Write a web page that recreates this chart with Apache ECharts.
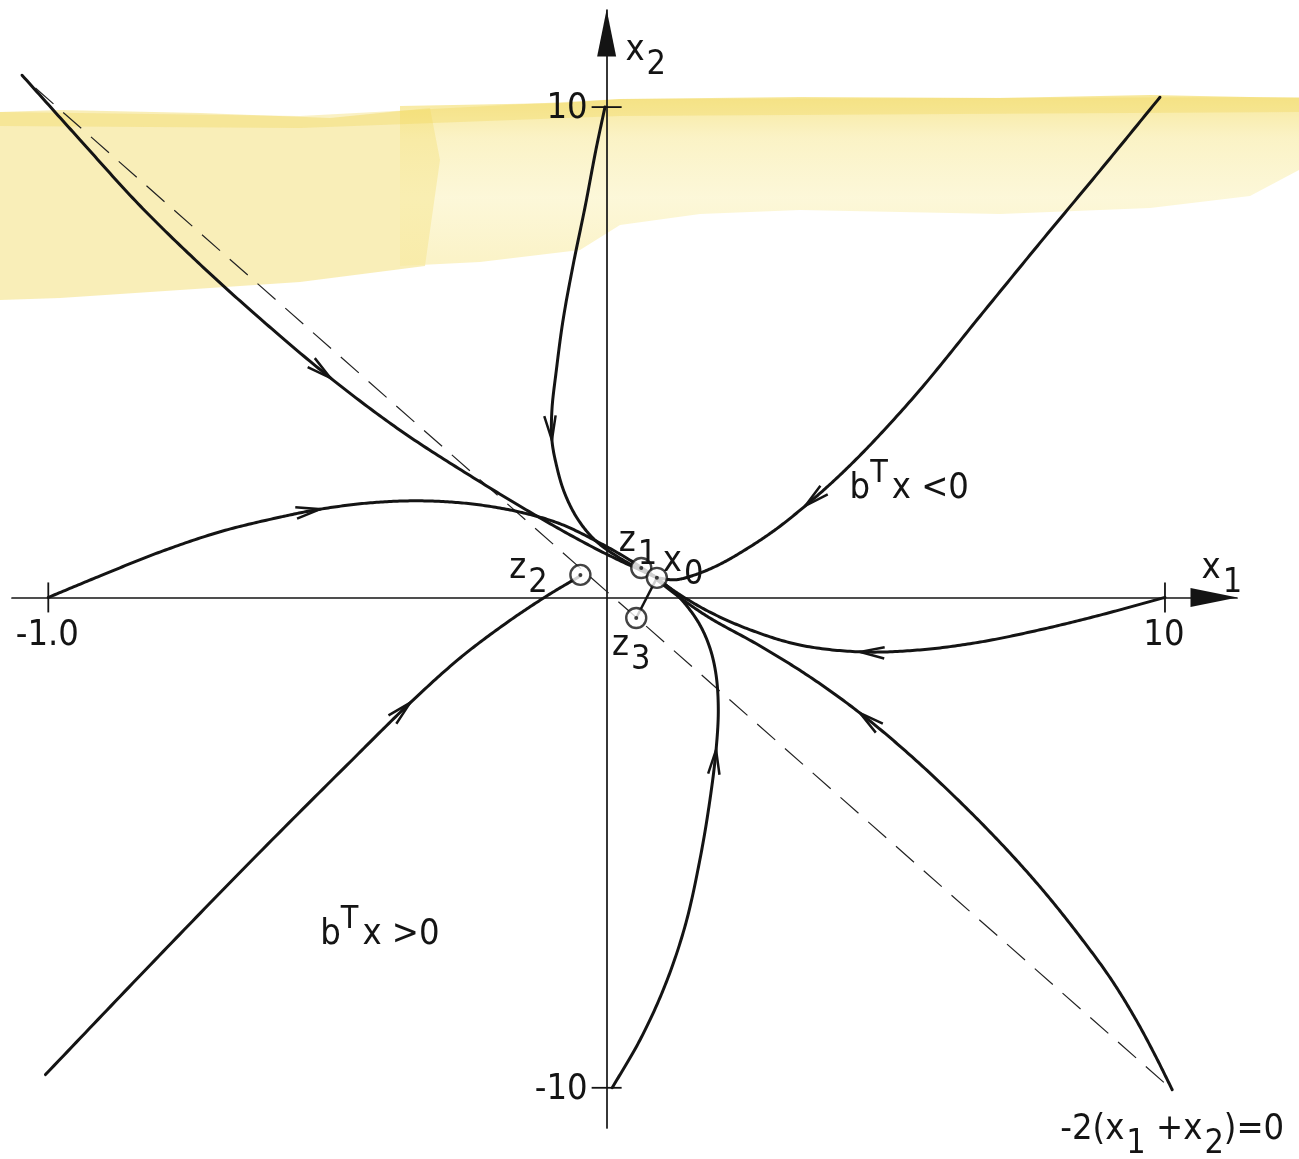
<!DOCTYPE html>
<html>
<head>
<meta charset="utf-8">
<script src="https://cdn.jsdelivr.net/npm/echarts@6/dist/echarts.min.js"></script>
<style>
  html, body { margin: 0; padding: 0; background: #ffffff; }
  #chart { width: 1299px; height: 1159px; }
</style>
</head>
<body>
<div id="chart"></div>
<script>
// Phase-plane trajectories (x1, x2), each listed in the direction of motion.
const trajTopLeft = [[-10.47,10.65],[-9.43,9.33],[-8.35,7.98],[-7.27,6.78],[-6.20,5.68],[-4.95,4.48],[-3.70,3.41],[-2.44,2.48],[-1.19,1.62],[-0.12,0.95],[0.90,0.40]];
const trajTop = [[-0.03,10.0],[-0.19,9.14],[-0.38,8.00],[-0.60,6.78],[-0.78,5.66],[-0.90,4.64],[-0.98,3.82],[-0.98,3.21],[-0.90,2.70],[-0.76,2.15],[-0.53,1.62],[-0.21,1.17],[0.24,0.80],[0.90,0.40]];
const trajLeft = [[-10.0,0.0],[-9.07,0.44],[-7.99,0.93],[-6.92,1.34],[-5.84,1.64],[-5.13,1.80],[-4.23,1.93],[-3.34,1.97],[-2.44,1.91],[-1.55,1.74],[-0.83,1.50],[-0.12,1.11],[0.42,0.76],[0.90,0.40]];
const trajLowerLeft = [[-10.05,-9.73],[-8.17,-7.49],[-6.38,-5.39],[-4.59,-3.35],[-3.52,-2.15],[-2.62,-1.23],[-1.82,-0.54],[-1.10,0.01],[-0.47,0.44]];
const trajTopRight = [[9.91,10.20],[8.84,8.71],[7.76,7.23],[6.69,5.74],[5.61,4.23],[4.72,3.11],[4.09,2.40],[3.56,1.87],[3.02,1.38],[2.48,0.97],[2.00,0.66],[1.58,0.46],[1.23,0.36],[0.90,0.40]];
const trajRight = [[10.0,0.0],[8.84,-0.36],[7.76,-0.66],[6.69,-0.91],[5.61,-1.07],[4.54,-1.11],[3.46,-0.97],[2.57,-0.66],[1.85,-0.30],[1.32,0.05],[0.90,0.38]];
const trajBottom = [[0.10,-10.0],[0.60,-9.02],[1.05,-7.90],[1.41,-6.68],[1.67,-5.35],[1.85,-4.13],[1.96,-3.11],[2.00,-2.29],[1.96,-1.58],[1.85,-1.03],[1.67,-0.56],[1.42,-0.15],[1.17,0.15],[0.90,0.40]];
const trajLowerRight = [[10.13,-10.04],[9.82,-9.33],[9.46,-8.57],[9.02,-7.76],[8.48,-6.92],[7.85,-6.02],[7.14,-5.11],[6.33,-4.17],[5.43,-3.21],[4.54,-2.36],[3.64,-1.62],[2.75,-0.99],[1.85,-0.42],[1.32,-0.01],[0.90,0.36]];

// index of the point on each trajectory that carries its direction arrow
const trajectories = [trajTopLeft, trajTop, trajLeft, trajLowerLeft, trajTopRight, trajRight, trajBottom, trajLowerRight];
const arrowIndex   = [5, 7, 5, 4, 7, 5, 6, 9];

// switching line -2(x1 + x2) = 0
const switchLine = [[-10.23,10.39],[10.13,-10.04]];

// marked points z1, x0, z2, z3 and the segment x0 -> z3
const pointNames = ['z1','x0','z2','z3'];
const pointX = [0.62, 0.90, -0.47, 0.53];
const pointY = [0.60, 0.40, 0.46, -0.42];
const segmentX0Z3 = [[0.90,0.40],[0.53,-0.42]];

// axis ticks and their labels
const xTickValues = [-10, 10];
const xTickLabels = ['-1.0', '10'];
const yTickValues = [-10, 10];
const yTickLabels = ['-10', '10'];

// annotation texts and their anchor positions
const noteText = ['x{s|2}', 'x{s|1}', 'z{s|1}', 'x{s|0}', 'z{s|2}', 'z{s|3}', 'b{t|T}x <0', 'b{t|T}x >0', '-2(x{s|1} +x{s|2})=0'];
const noteX = [0.70, 11.02, 0.56, 1.37, -1.40, 0.44, 5.42, -4.06, 10.13];
const noteY = [11.15, 0.58, 1.14, 0.74, 0.58, -0.99, 2.22, -6.88, -10.86];

const FONT = "'DejaVu Sans Condensed', 'DejaVu Sans', sans-serif";
const INK = '#141414';
const FS = 36;

const chart = echarts.init(document.getElementById('chart'), null, { renderer: 'canvas' });

// centripetal Catmull-Rom through pixel points, appended to out
function catmullRomSegment(p0, p1, p2, p3, n, out) {
  const d = (a, b) => Math.max(Math.pow(Math.hypot(b[0] - a[0], b[1] - a[1]), 0.5), 1e-4);
  const t0 = 0, t1 = t0 + d(p0, p1), t2 = t1 + d(p1, p2), t3 = t2 + d(p2, p3);
  for (let j = out.length ? 1 : 0; j <= n; j++) {
    const t = t1 + (t2 - t1) * j / n;
    const lerp = (a, b, ta, tb) => [
      ((tb - t) * a[0] + (t - ta) * b[0]) / (tb - ta),
      ((tb - t) * a[1] + (t - ta) * b[1]) / (tb - ta)
    ];
    const A1 = lerp(p0, p1, t0, t1), A2 = lerp(p1, p2, t1, t2), A3 = lerp(p2, p3, t2, t3);
    const B1 = lerp(A1, A2, t0, t2), B2 = lerp(A2, A3, t1, t3);
    out.push(lerp(B1, B2, t1, t2));
  }
}

function renderTrajectory(params, api) {
  const traj = trajectories[api.value(2)];
  const pts = traj.map(p => api.coord(p));
  const n = pts.length;
  const out = [];
  for (let i = 0; i < n - 1; i++) {
    const p1 = pts[i], p2 = pts[i + 1];
    const p0 = i > 0 ? pts[i - 1] : [2 * p1[0] - p2[0], 2 * p1[1] - p2[1]];
    const p3 = i < n - 2 ? pts[i + 2] : [2 * p2[0] - p1[0], 2 * p2[1] - p1[1]];
    catmullRomSegment(p0, p1, p2, p3, 24, out);
  }
  return {
    type: 'polyline',
    shape: { points: out },
    style: { stroke: INK, lineWidth: 3, fill: null, lineJoin: 'round', lineCap: 'round' }
  };
}

function renderArrow(params, api) {
  const tip = api.coord([api.value(0), api.value(1)]);
  const a = api.coord([api.value(2), api.value(3)]);
  const b = api.coord([api.value(4), api.value(5)]);
  const ang = Math.atan2(b[1] - a[1], b[0] - a[0]);
  const len = 25, spread = 0.23;
  const p1 = [tip[0] - len * Math.cos(ang - spread), tip[1] - len * Math.sin(ang - spread)];
  const p2 = [tip[0] - len * Math.cos(ang + spread), tip[1] - len * Math.sin(ang + spread)];
  return {
    type: 'polyline',
    shape: { points: [p1, tip, p2] },
    style: { stroke: INK, lineWidth: 2.5, fill: null, lineJoin: 'miter' }
  };
}

// tick mark crossing the axis, with its label
function renderTick(params, api) {
  const p = api.coord([api.value(0), api.value(1)]);
  const onX = api.value(2) === 0;
  const idx = api.value(3);
  const h = 15;
  const shape = onX
    ? { x1: p[0], y1: p[1] - h, x2: p[0], y2: p[1] + h }
    : { x1: p[0] - h, y1: p[1], x2: p[0] + h, y2: p[1] };
  const label = onX
    ? { type: 'text', x: p[0] - 1, y: p[1] + 20,
        style: { text: xTickLabels[idx], fill: INK, fontFamily: FONT, fontSize: FS, align: 'center', verticalAlign: 'top' } }
    : { type: 'text', x: p[0] - 19, y: p[1] + 2,
        style: { text: yTickLabels[idx], fill: INK, fontFamily: FONT, fontSize: FS, align: 'right', verticalAlign: 'middle' } };
  return {
    type: 'group',
    children: [
      { type: 'line', shape: shape, style: { stroke: INK, lineWidth: 1.8 } },
      label
    ]
  };
}

// free text placed at data positions
function renderNote(params, api) {
  const p = api.coord([api.value(0), api.value(1)]);
  return {
    type: 'text', x: p[0], y: p[1],
    style: {
      text: noteText[params.dataIndex],
      fill: INK, fontFamily: FONT, fontSize: FS,
      align: 'center', verticalAlign: 'middle',
      rich: {
        s: { fill: INK, fontFamily: FONT, fontSize: 34, padding: [28, 0, 0, 2] },
        t: { fill: INK, fontFamily: FONT, fontSize: 32, padding: [0, 4, 30, 0] }
      }
    }
  };
}

const trajData = trajectories.map((t, i) => [t[0][0], t[0][1], i]);

const arrowData = trajectories.map((t, i) => {
  const k = arrowIndex[i];
  return [t[k][0], t[k][1], t[k - 1][0], t[k - 1][1], t[k + 1][0], t[k + 1][1]];
});

const tickData = xTickValues.map((v, i) => [v, 0, 0, i]).concat(yTickValues.map((v, i) => [0, v, 1, i]));
const noteData = noteX.map((x, i) => [x, noteY[i]]);

const option = {
  backgroundColor: '#ffffff',
  animation: false,
  grid: { left: 12, top: 10, width: 1225, height: 1118, containLabel: false, outerBoundsMode: 'none' },
  xAxis: {
    type: 'value', min: -10.65, max: 11.29,
    splitLine: { show: false },
    axisLine: { onZero: true, lineStyle: { color: INK, width: 1.7 }, symbol: ['none', 'triangle'], symbolSize: [19, 47], symbolOffset: [0, -23] },
    axisTick: { show: false },
    axisLabel: { show: false }
  },
  yAxis: {
    type: 'value', min: -10.82, max: 11.98,
    splitLine: { show: false },
    axisLine: { onZero: true, lineStyle: { color: INK, width: 1.7 }, symbol: ['none', 'triangle'], symbolSize: [19, 47], symbolOffset: [0, -23] },
    axisTick: { show: false },
    axisLabel: { show: false }
  },
  graphic: [
    {
      type: 'polygon', silent: true, z: 0,
      shape: { points: [[0,112],[60,110],[200,113],[330,118],[430,108],[440,160],[425,266],[300,282],[150,292],[60,298],[0,300]] },
      style: { fill: 'rgba(246,228,140,0.62)' }
    },
    {
      type: 'polygon', silent: true, z: 0,
      shape: { points: [[400,106],[560,103],[620,99],[800,97],[1000,98],[1150,95],[1299,98],[1299,170],[1250,196],[1150,208],[1000,214],[900,212],[800,210],[700,214],[620,225],[580,250],[480,262],[400,266]] },
      style: {
        fill: new echarts.graphic.LinearGradient(0, 0, 0, 1, [
          { offset: 0, color: 'rgba(244,222,110,0.70)' },
          { offset: 0.25, color: 'rgba(247,232,150,0.55)' },
          { offset: 0.6, color: 'rgba(249,238,170,0.45)' },
          { offset: 1, color: 'rgba(248,234,160,0.60)' }
        ])
      }
    },
    {
      type: 'polygon', silent: true, z: 0,
      shape: { points: [[0,112],[300,116],[620,99],[1299,97],[1299,112],[620,116],[300,128],[0,126]] },
      style: { fill: 'rgba(240,214,90,0.35)' }
    }
  ],
  series: [
    {
      type: 'line', data: switchLine, symbol: 'none', clip: false, silent: true, z: 2,
      lineStyle: { color: '#222', width: 1.2, type: [24, 13] }
    },
    { type: 'custom', renderItem: renderTrajectory, data: trajData, clip: false, silent: true, z: 3 },
    {
      type: 'line', data: segmentX0Z3, symbol: 'none', clip: false, silent: true, z: 3,
      lineStyle: { color: INK, width: 2.5 }
    },
    { type: 'custom', renderItem: renderArrow, data: arrowData, clip: false, silent: true, z: 4 },
    { type: 'custom', renderItem: renderTick, data: tickData, clip: false, silent: true, z: 4 },
    {
      type: 'scatter', silent: true, z: 6,
      data: pointX.map((x, i) => ({ name: pointNames[i], value: [x, pointY[i]] })),
      symbol: 'circle', symbolSize: 20,
      itemStyle: { color: '#ffffff', borderColor: INK, borderWidth: 2.4 }
    },
    {
      type: 'scatter', silent: true, z: 7,
      data: pointX.map((x, i) => [x, pointY[i]]),
      symbol: 'circle', symbolSize: 4,
      itemStyle: { color: INK }
    },
    { type: 'custom', renderItem: renderNote, data: noteData, clip: false, silent: true, z: 8 }
  ]
};

chart.setOption(option);
</script>
</body>
</html>
